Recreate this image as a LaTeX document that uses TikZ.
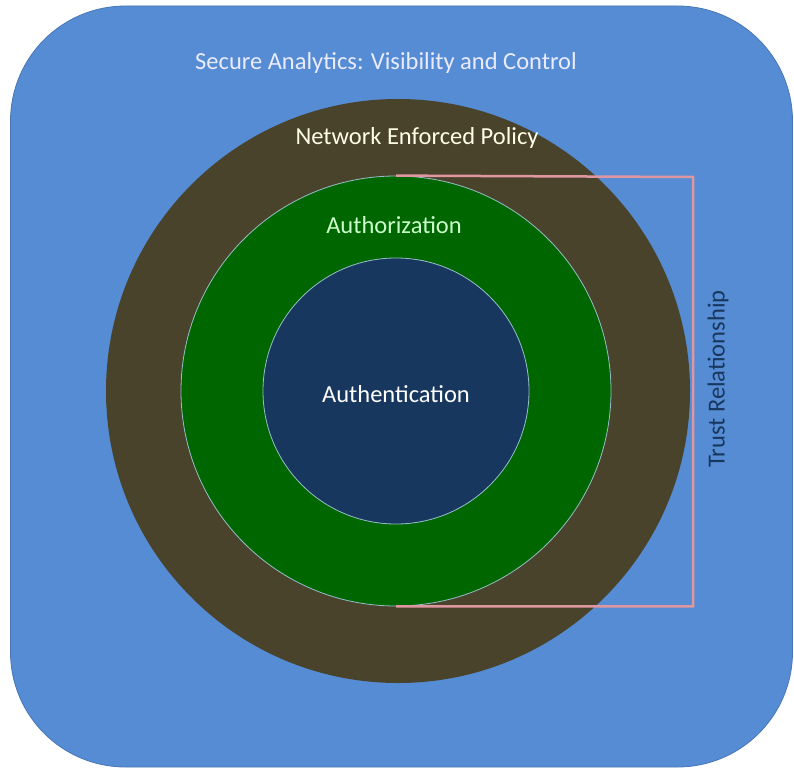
\documentclass[tikz,border=0pt]{standalone}
\usepackage{fontspec}
\setmainfont{Carlito}
\usepackage{xcolor}
\usepackage{tikz}
\usetikzlibrary{positioning}

\definecolor{skyback}{RGB}{85,140,212}
\definecolor{policybrown}{RGB}{74,67,44}
\definecolor{authzgreen}{RGB}{0,102,0}
\definecolor{authnblue}{RGB}{24,55,94}
\definecolor{trustpink}{RGB}{222,150,160}
\definecolor{ringedge}{RGB}{150,190,200}

\tikzset{
    ring/.style={circle, inner sep=0pt},
    ringlabel/.style={font=\fontsize{24.5}{26}\selectfont, inner sep=0pt}
}

\begin{document}
\begin{tikzpicture}[x=1pt, y=-1pt]
    % Fixed page size
    \useasboundingbox (0,0) rectangle (794,770);

    % Outer blue panel
    \node[draw=skyback!85!black, line width=0.8pt, fill=skyback, rounded corners=115pt,
          minimum width=782pt, minimum height=761pt, inner sep=0pt] (panel) at (401.5,386.5) {};

    % Nested rings
    \node[ring, fill=policybrown, minimum size=584pt] (policy) at (398,391) {};
    \node[ring, fill=authzgreen, draw=ringedge, line width=0.8pt, minimum size=430pt] (authz) at (396,391) {};
    \node[ring, fill=authnblue, draw=ringedge, line width=0.8pt, minimum size=266pt] (authn) at (396,391) {};

    % Labels
    \node[ringlabel, text=blue!8!white] (title) at (386,63) {Secure Analytics: Visibility and Control};
    \node[ringlabel, text=yellow!10!white] (policytext) at (417,138) {Network Enforced Policy};
    \node[ringlabel, text=green!20!white] (authztext) at (394,225) {Authorization};
    \node[ringlabel, text=white] (authntext) at (396,394) {Authentication};

    % Trust bracket
    \coordinate (trustcorner) at (693,177);
    \draw[trustpink, line width=2.5pt] (authz.north) -- (trustcorner) |- (authz.south);
    \node[ringlabel, text=authnblue, rotate=90] (trust) at (718,379) {Trust Relationship};
\end{tikzpicture}
\end{document}
